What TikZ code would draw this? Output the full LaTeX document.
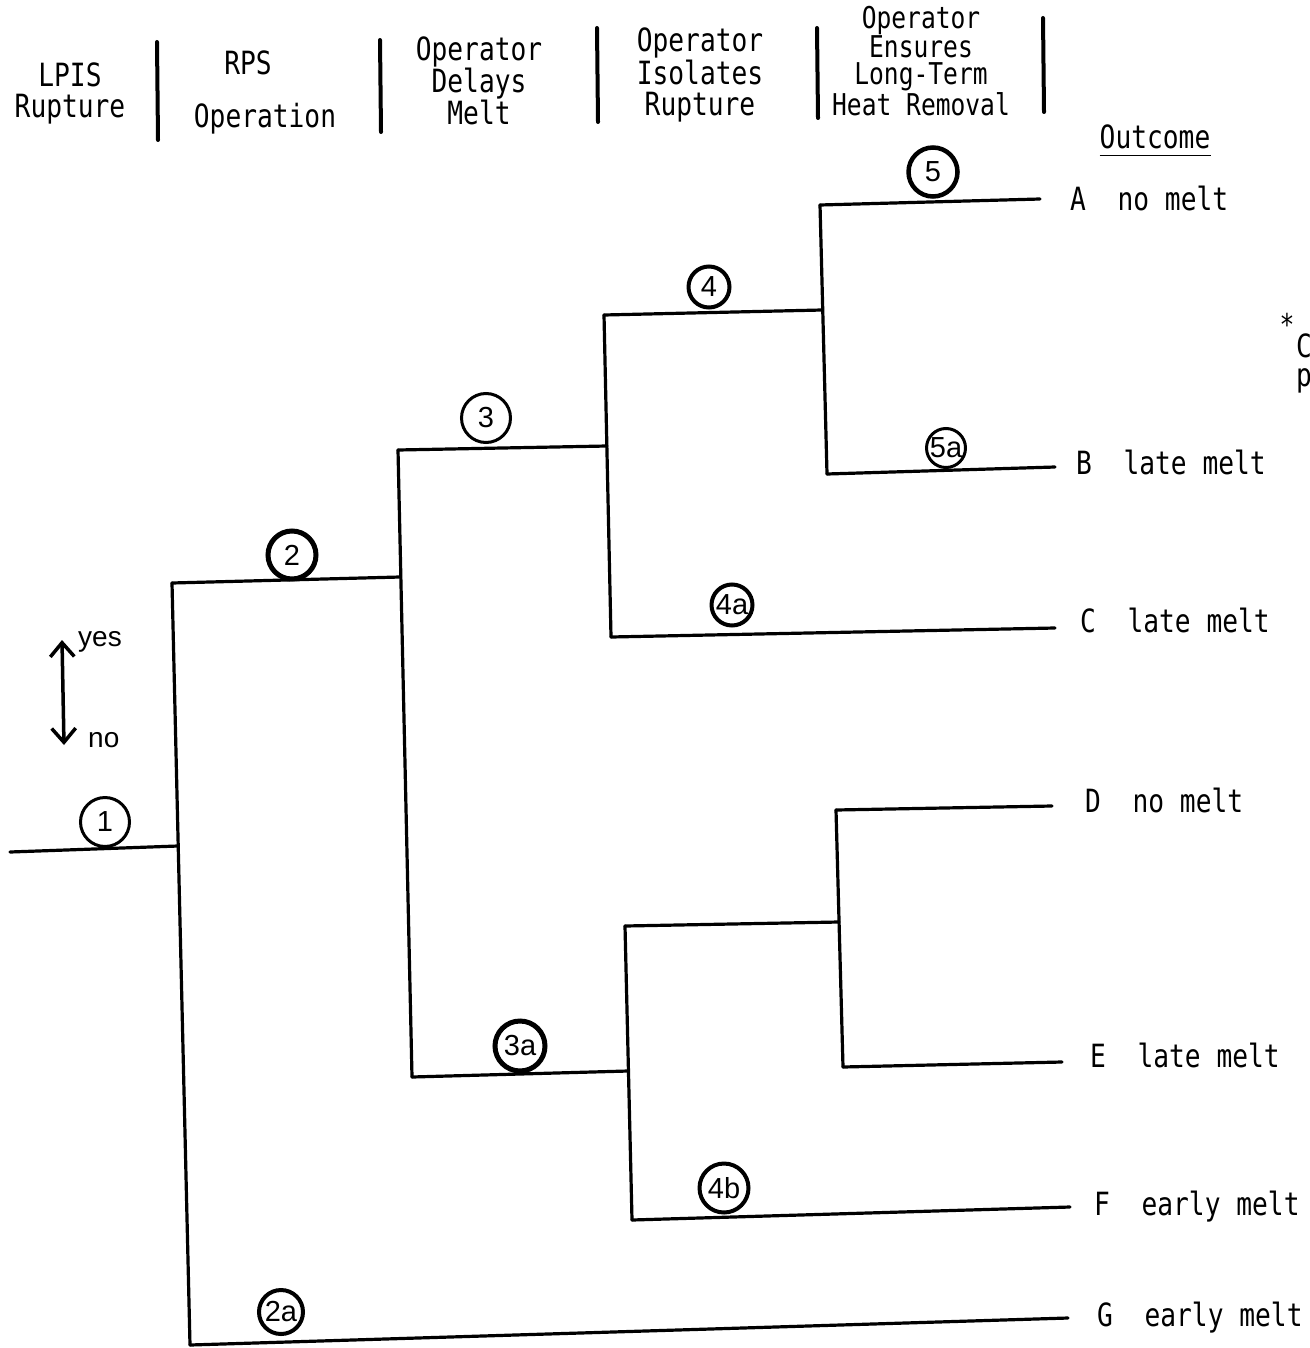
\documentclass[tikz,border=0pt]{standalone}
\usepackage{fontspec}
\setmainfont{Liberation Sans}
\newfontfamily\typew[FakeStretch=0.82]{DejaVu Sans Mono}
\usetikzlibrary{arrows.meta,positioning}

\begin{document}
\begin{tikzpicture}[
    x=1pt, y=-1pt,
    branch/.style={line width=3.2pt, line cap=round},
    bar/.style={line width=4pt, line cap=round},
    ev/.style={
      draw, circle, line width=3pt,
      inner sep=0pt, minimum size=46pt,
      font=\fontsize{29}{29}\selectfont
    },
    evbold/.style={ev, line width=4.5pt},
    head/.style={font=\typew\fontsize{32}{31}\selectfont, align=center, inner sep=0pt},
    headtight/.style={head, font=\typew\fontsize{30}{27.3}\selectfont},
    outc/.style={font=\typew\fontsize{32}{32}\selectfont, anchor=base west, inner sep=0pt},
    note/.style={font=\fontsize{28}{28}\selectfont, anchor=west, inner sep=0pt}
  ]
  \useasboundingbox (0,0) rectangle (1309,1348);

  % Column headings
  \node[head] (hlpis) at (70,93) {LPIS\\Rupture};
  \node[head] (hrps) at (248,63) {RPS};
  \node[head] (hrpsop) at (265,119) {Operation};
  \node[head] (hdelay) at (479,81) {Operator\\Delays\\Melt};
  \node[head] (hisol) at (700,75) {Operator\\Isolates\\Rupture};
  \node[headtight] (hheat) at (921,61) {Operator\\Ensures\\Long-Term\\Heat Removal};
  \draw[bar] (157,42) -- (158,140);
  \draw[bar] (380,40) -- (381,132);
  \draw[bar] (597,28) -- (598,122);
  \draw[bar] (817,28) -- (818,118);
  \draw[bar] (1043,18) -- (1044,112);

  \node[head] (hout) at (1155,137) {Outcome};
  \draw[line width=1.5pt] ([yshift=-6pt]hout.south west) -- ([yshift=-6pt]hout.south east);

  % Branch points
  \coordinate (in) at (10,852);
  \coordinate (j1) at (178,846);
  \coordinate (j1u) at (172,583);
  \coordinate (j1d) at (190,1345);
  \coordinate (j2) at (400,577);
  \coordinate (G) at (1068,1318);
  \coordinate (j2u) at (398,450);
  \coordinate (j2d) at (412,1077);
  \coordinate (j3) at (607,446);
  \coordinate (j3a) at (628,1071);
  \coordinate (j3u) at (604,315);
  \coordinate (j3d) at (611,637);
  \coordinate (j4) at (822,310);
  \coordinate (C) at (1055,628);
  \coordinate (j4u) at (820,205);
  \coordinate (j4d) at (827,474);
  \coordinate (A) at (1040,199);
  \coordinate (B) at (1055,467);
  \coordinate (j3au) at (625,926);
  \coordinate (j3ad) at (632,1220);
  \coordinate (j4c) at (839,922);
  \coordinate (F) at (1070,1207);
  \coordinate (j4cu) at (836,810);
  \coordinate (j4cd) at (843,1067);
  \coordinate (D) at (1052,806);
  \coordinate (E) at (1062,1062);

  % Tree
  \draw[branch] (in) -- (j1);
  \draw[branch] (j1u) -- (j1d);
  \draw[branch] (j1u) -- (j2);
  \draw[branch] (j1d) -- (G);
  \draw[branch] (j2u) -- (j2d);
  \draw[branch] (j2u) -- (j3);
  \draw[branch] (j2d) -- (j3a);
  \draw[branch] (j3u) -- (j3d);
  \draw[branch] (j3u) -- (j4);
  \draw[branch] (j3d) -- (C);
  \draw[branch] (j4u) -- (j4d);
  \draw[branch] (j4u) -- (A);
  \draw[branch] (j4d) -- (B);
  \draw[branch] (j3au) -- (j3ad);
  \draw[branch] (j3au) -- (j4c);
  \draw[branch] (j3ad) -- (F);
  \draw[branch] (j4cu) -- (j4cd);
  \draw[branch] (j4cu) -- (D);
  \draw[branch] (j4cd) -- (E);

  % Event numbers
  \node[ev, minimum size=49pt] (e1) at (105,822) {1};
  \node[evbold, minimum size=48pt, line width=5pt] (e2) at (292,555) {2};
  \node[ev, minimum size=44pt, line width=4pt] (e2a) at (281,1312) {2a};
  \node[ev, minimum size=49pt] (e3) at (486,418) {3};
  \node[evbold, minimum size=50pt, line width=5pt] (e3a) at (520,1046) {3a};
  \node[ev, minimum size=41pt, line width=4pt] (e4) at (709,287) {4};
  \node[ev, minimum size=41pt, line width=4pt] (e4a) at (732,605) {4a};
  \node[ev, minimum size=49pt, line width=4pt] (e4b) at (724,1188) {4b};
  \node[evbold, minimum size=49pt] (e5) at (933,172) {5};
  \node[ev, minimum size=39pt] (e5a) at (946,448) {5a};

  % Outcomes
  \node[outc] (oA) at (1070,211) {A~~no melt};
  \node[outc] (oB) at (1076,474) {B~~late melt};
  \node[outc] (oC) at (1080,632) {C~~late melt};
  \node[outc] (oD) at (1085,812) {D~~no melt};
  \node[outc] (oE) at (1090,1067) {E~~late melt};
  \node[outc] (oF) at (1094,1215) {F~~early melt};
  \node[outc] (oG) at (1097,1326) {G~~early melt};

  % Legend
  \coordinate (ytop) at (62,640);
  \coordinate (ybot) at (64,745);
  \draw[line width=3.5pt, {Straight Barb[length=14pt,width=24pt]}-{Straight Barb[length=14pt,width=24pt]}] (ytop) -- (ybot);
  \node[note] (lyes) at (78,642) {yes};
  \node[note] (lno) at (88,740) {no};

  % Cut-off note at the edge
  \node[font=\typew\fontsize{30}{30}\selectfont, inner sep=0pt] (nstar) at (1287,324) {*};
  \node[outc] (nC) at (1296,357) {C};
  \node[outc] (np) at (1296,386) {p};
\end{tikzpicture}
\end{document}
